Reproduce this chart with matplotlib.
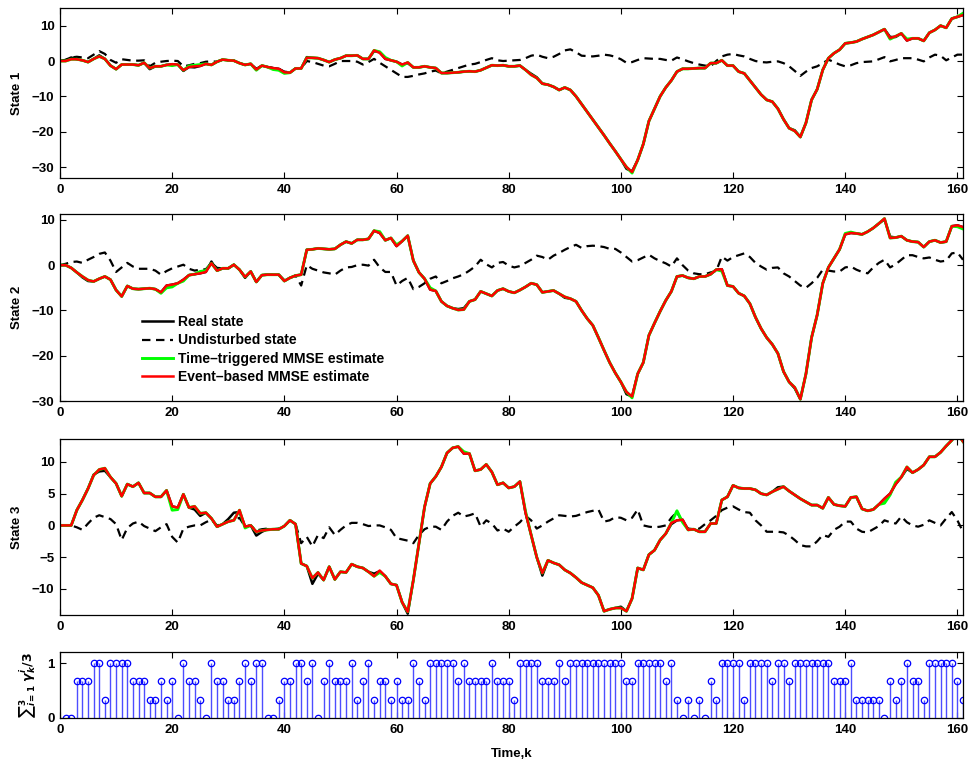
import numpy as np
import matplotlib
matplotlib.use('Agg')
import matplotlib.pyplot as plt

plt.rcParams['font.family'] = ['Liberation Sans', 'DejaVu Sans']
plt.rcParams['font.weight'] = 'bold'
plt.rcParams['mathtext.fontset'] = 'dejavusans'

k = list(range(162))

# ---------------- State 1 ----------------
real1 = [
    0, 0.3, 1.0, 0.5, 0.2, -0.3, 0.6, 1.6, 0.6, -1.3,
    -2.3, -1, -1, -1, -1.2, -0.5, -2.3, -1.5, -1.5, -1.1,
    -0.9, -1, -2.8, -1.7, -1.8, -1.4, -0.8, -1.1, -0.2, 0.4,
    0.2, 0.1, -0.6, -1.1, -0.8, -2.4, -1.3, -1.7, -2, -2.2,
    -3.2, -3.3, -2.1, -2.1, 1.1, 0.9, 0.8, 0.3, -0.3, 0.4,
    0.8, 1.5, 1.5, 1.6, 0.6, 0.6, 2.8, 2.5, 0.6, 0.2,
    -0.2, -1, -0.6, -1.8, -1.8, -1.5, -1.8, -2, -3.4, -3.4,
    -3.3, -3.2, -3, -2.9, -3, -2.6, -1.9, -1.2, -1.3, -1.2,
    -1.5, -1.5, -1.3, -2.5, -3.6, -4.6, -6.4, -6.7, -7.3, -8.2,
    -7.5, -8.2, -10, -12.2, -14.4, -16.6, -18.8, -21, -23.3, -25.5,
    -27.8, -30.5, -31.2, -28, -23.5, -17, -13.5, -10, -7.5, -5.5,
    -3, -2.2, -2.2, -2.1, -2, -2, -0.6, -0.6, 0.2, -1.3,
    -1.3, -3, -3.5, -5.5, -7.5, -9.5, -11, -11.5, -13.5, -16.5,
    -19, -19.6, -21.5, -17.5, -11, -8, -2.5, 0.8, 2.2, 3.2,
    5, 5.2, 5.5, 6.2, 6.8, 7.4, 8.2, 9, 6.8, 6.8,
    7.8, 5.8, 6.4, 6.4, 5.7, 8, 8.8, 10, 9.4, 12,
    12.5, 13]
undist1 = [
    0, 0.3, 1, 1.2, 1, 0.8, 1.8, 2.8, 2, 0.3,
    -0.5, 0.5, 0.3, 0.1, 0.1, 0.2, -1.5, -0.5, -0.2, 0,
    0.1, 0, -1.5, -1.2, -0.8, -0.6, -0.2, -0.1, -0.2, 0.4,
    0.2, 0.1, -0.6, -1.1, -0.8, -2.2, -1.3, -1.7, -2, -2.2,
    -3, -3.2, -2.1, -2.1, 0, -0.3, -0.8, -1.3, -1.5, -0.8,
    0, 0, 0, -0.2, -1, -0.3, 0.6, -0.5, -1.5, -2.5,
    -3.5, -4.5, -4.5, -4.2, -3.8, -3.5, -3, -2.7, -3.5, -3,
    -2.5, -2, -1.5, -1, -0.8, -0.3, 0.3, 0.8, 0.2, 0,
    0.1, 0.2, 0.3, 0.8, 1.5, 1.8, 1.2, 0.8, 1.2, 2,
    3, 3.3, 2.5, 1.5, 1.4, 1.3, 1.5, 1.8, 1.6, 1.2,
    0.5, -0.5, -0.3, 0.3, 0.8, 0.7, 0.6, 0.6, 0.3, 0.1,
    1, 0.5, -0.1, -0.6, -1, -1.3, -1.5, 0, 1.3, 1.8,
    2, 1.6, 1.3, 0.6, 0, -0.3, -0.4, -0.2, -0.1, -0.6,
    -1.5, -2.8, -4.2, -3, -2, -1.5, -0.6, 0.4, -0.3, -1,
    -1.5, -1.2, -0.6, -0.3, -0.2, -0.1, 0.5, 1.1, -0.1, 0.3,
    0.8, 0.8, 0.8, 0.4, -0.1, 1, 1.8, 1.5, 0.2, 1,
    1.8, 1.8]
tt1 = [
    0, 0, 0.5, 0.5, 0.2, -0.3, 0.6, 1.3, 0.6, -1.3,
    -2.3, -1, -1, -1, -1.2, -0.5, -2, -1.5, -1.5, -1.1,
    -1.3, -1, -2.6, -1.4, -1.2, -1.0, -0.8, -1.1, -0.2, 0.4,
    0.2, 0.1, -0.6, -1.1, -0.8, -2.6, -1.3, -1.7, -2.4, -2.6,
    -3.5, -3.3, -2.1, -2.1, 0.9, 0.9, 0.8, 0.3, -0.3, 0.4,
    0.8, 1.5, 1.5, 1.6, 0.6, 0.6, 3, 2.6, 1.0, 0.2,
    -0.2, -1.4, -0.4, -1.8, -1.8, -1.5, -1.8, -2, -3.4, -3.4,
    -3.3, -3.2, -3, -2.9, -3, -2.6, -1.9, -1.2, -1.3, -1.2,
    -1.5, -1.5, -1.3, -2.5, -3.9, -4.8, -6.4, -6.7, -7.3, -8.2,
    -7.5, -8.2, -10, -12.2, -14.4, -16.6, -18.8, -21, -23.3, -25.5,
    -27.8, -30, -31.7, -28, -23.5, -17, -13.5, -10, -7.5, -5.5,
    -3, -2.2, -2.2, -2.1, -2, -2, -0.6, -0.6, 0.2, -1.3,
    -1.3, -3, -3.5, -5.5, -7.5, -9.5, -11, -11.5, -13.5, -16.5,
    -19, -19.8, -21.5, -17.5, -11, -8, -2.5, 0.8, 2.2, 3.2,
    5, 5.2, 5.5, 6.2, 6.8, 7.4, 8.2, 9, 6.2, 7,
    7.8, 6.2, 6.4, 6.4, 5.7, 8, 8.8, 10, 9.4, 12,
    12.5, 13.5]
eb1 = [
    0, 0, 0.5, 0.5, 0.2, -0.3, 0.6, 1.3, 0.6, -1.3,
    -2.3, -1, -1, -1, -1.2, -0.5, -2, -1.5, -1.5, -1.1,
    -0.9, -1, -2.6, -1.7, -1.5, -1.4, -0.8, -1.1, -0.2, 0.4,
    0.2, 0.1, -0.6, -1.1, -0.8, -2.4, -1.3, -1.7, -2, -2.2,
    -3.2, -3.3, -2.1, -2.1, 0.9, 0.9, 0.8, 0.3, -0.3, 0.4,
    0.8, 1.5, 1.5, 1.6, 0.6, 0.6, 3, 2.3, 0.6, 0.2,
    -0.2, -1, -0.4, -1.8, -1.8, -1.5, -1.8, -2, -3.4, -3.4,
    -3.3, -3.2, -3, -2.9, -3, -2.6, -1.9, -1.2, -1.3, -1.2,
    -1.5, -1.5, -1.3, -2.5, -3.9, -4.8, -6.4, -6.7, -7.3, -8.2,
    -7.5, -8.2, -10, -12.2, -14.4, -16.6, -18.8, -21, -23.3, -25.5,
    -27.8, -30, -31.4, -28, -23.5, -17, -13.5, -10, -7.5, -5.5,
    -3, -2.2, -2.2, -2.1, -2, -2, -0.6, -0.6, 0.2, -1.3,
    -1.3, -3, -3.5, -5.5, -7.5, -9.5, -11, -11.5, -13.5, -16.5,
    -19, -19.8, -21.5, -17.5, -11, -8, -2.5, 0.8, 2.2, 3.2,
    5, 5.2, 5.5, 6.2, 6.8, 7.4, 8.2, 9, 6.5, 7,
    7.8, 5.8, 6.4, 6.4, 5.7, 8, 8.8, 10, 9.4, 12,
    12.5, 13]

# ---------------- State 2 ----------------
real2 = [
    0, 0, -0.6, -1.6, -2.7, -3.5, -3.6, -3, -2.5, -3.2,
    -5.5, -6.9, -4.6, -5.2, -5.3, -5.2, -5.1, -5.3, -6, -4.5,
    -4.3, -4, -3.2, -2.2, -2, -1.8, -1.5, 0.8, -1.2, -0.7,
    -0.7, 0.1, -1, -2.8, -1.4, -3.7, -2.2, -2.1, -2.1, -2.1,
    -3.5, -2.8, -2.3, -2.1, 3.4, 3.5, 3.7, 3.6, 3.5, 3.6,
    4.5, 5.2, 4.8, 5.6, 5.6, 5.8, 7.6, 7.1, 5.5, 6,
    4.2, 5.3, 6.5, 1, -1.6, -3, -5.4, -5.7, -8, -9,
    -9.5, -9.7, -9.5, -8, -7.6, -5.8, -6.3, -6.8, -5.6, -5.2,
    -5.8, -6.1, -5.5, -4.8, -4, -4.3, -6, -5.8, -5.6, -6.3,
    -7.2, -7.4, -8, -10, -11.8, -13.3, -16, -18.8, -21.5, -23.8,
    -25.8, -28.5, -29, -24, -21.5, -15.5, -12.8, -10.2, -7.8, -5.8,
    -2.5, -2.3, -2.8, -3, -2.5, -2.5, -2, -1, -0.9, -4.5,
    -4.7, -6.2, -6.8, -8.5, -11.5, -14, -16, -17.5, -19.5, -23.5,
    -25.8, -27.2, -29.6, -24, -16, -11, -4, -0.5, 1.5, 3.5,
    6.8, 7.1, 7, 6.8, 7.4, 8.2, 9.2, 10.1, 6.3, 6.1,
    6.4, 5.5, 5.2, 5.1, 4, 5.2, 5.5, 5, 5.2, 8.6,
    8.8, 8.4]
undist2 = [
    0, 0.3, 0.7, 0.8, 0.5, 1.2, 1.8, 2.5, 2.8, 1,
    -1.5, -0.5, 0.5, -0.3, -0.8, -0.8, -0.8, -1.2, -2.1, -1.3,
    -0.7, -0.3, 0.1, -0.8, -1.2, -1, -0.9, 0.5, -0.6, -0.7,
    -0.7, 0.1, -1, -2.6, -1.4, -3.7, -2.2, -2.1, -2.1, -2.1,
    -3.3, -2.8, -2.3, -4.5, 0, -0.8, -1.2, -1.6, -1.8, -2.1,
    -1.2, -0.5, -0.4, 0, 0.1, -0.1, 1.2, -0.5, -1.5, -1.5,
    -4.5, -3.5, -2.8, -5.3, -4.8, -4, -3, -2.5, -4, -3.5,
    -2.9, -2.5, -2, -1.2, -0.3, 1.2, 0.2, -0.5, 0.5, 0.7,
    -0.1, -0.5, -0.2, 0.5, 1.2, 2.1, 1.8, 1.2, 2.1, 2.7,
    3.4, 4, 4.5, 3.8, 4.2, 4.3, 4.2, 4, 3.6, 3.6,
    2.8, 1.8, 0.8, 1.1, 1.7, 2.3, 1.5, 0.9, 0.4, -0.3,
    1.5, 0, -1.2, -1.8, -2, -2, -1.6, -1.3, 1.9, 1,
    1.8, 2.2, 2.6, 1.8, 0.5, -0.3, -1, -0.6, -0.5, -1.8,
    -2.5, -3.5, -4.5, -5, -4, -2.8, -1, -1.2, -1.4, -1.4,
    -0.5, -0.3, -1, -1.5, -1.8, -0.5, 0.5, 1.2, -0.5, 0.2,
    1.2, 2.2, 2.2, 1.8, 1.5, 1.7, 1.2, 0.8, 1, 2.6,
    2.8, 1.2]
tt2 = [
    0, 0, -0.6, -1.6, -2.5, -3.3, -3.6, -3, -2.5, -3.2,
    -5.5, -6.9, -4.6, -5.2, -5.3, -5.2, -5.1, -5.3, -6.2, -5,
    -4.8, -4, -3.5, -2.2, -2, -1.4, -1.2, 0.4, -1.2, -0.7,
    -0.7, 0.1, -1, -2.6, -1.4, -3.7, -2.2, -2.1, -2.1, -2.1,
    -3.5, -2.8, -2.3, -2.1, 3.4, 3.5, 3.7, 3.6, 3.5, 3.6,
    4.5, 5.2, 4.8, 5.6, 5.6, 5.8, 7.6, 7.4, 5.5, 6,
    4.5, 5.3, 6.5, 1, -1.6, -3, -5, -5.7, -8, -9,
    -9.5, -9.9, -9.8, -8, -7.6, -5.8, -6.3, -6.8, -5.6, -5.2,
    -5.8, -6.1, -5.5, -4.8, -4, -4.3, -6, -5.8, -5.6, -6.3,
    -7, -7.4, -8, -10, -11.8, -13.3, -16, -18.8, -21.5, -23.8,
    -25.8, -28, -29.3, -24, -21.5, -15.5, -12.8, -10.2, -7.8, -5.8,
    -2.5, -2.3, -2.8, -3, -2.5, -2.5, -2, -1, -1.3, -4.5,
    -4.7, -6.2, -6.8, -8.5, -11.5, -14, -16, -17.5, -19.5, -23.5,
    -25.8, -27, -29.6, -24, -16, -11, -4, -0.5, 1.5, 3.5,
    7, 7.3, 7, 6.8, 7.4, 8.2, 9.2, 10.3, 6, 6.1,
    6.4, 5.5, 5.2, 5.1, 4, 5.2, 5.5, 5, 5.2, 8.6,
    8.5, 8]
eb2 = [
    0, 0, -0.6, -1.6, -2.5, -3.3, -3.6, -3, -2.5, -3.2,
    -5.5, -6.9, -4.6, -5.2, -5.3, -5.2, -5.1, -5.3, -6, -4.5,
    -4.3, -4, -3.2, -2.2, -2, -1.8, -1.5, 0.4, -1.2, -0.7,
    -0.7, 0.1, -1, -2.6, -1.4, -3.7, -2.2, -2.1, -2.1, -2.1,
    -3.5, -2.8, -2.3, -2.1, 3.4, 3.5, 3.7, 3.6, 3.5, 3.6,
    4.5, 5.2, 4.8, 5.6, 5.6, 5.8, 7.6, 7.1, 5.5, 6,
    4.2, 5.3, 6.5, 1, -1.6, -3, -5.4, -5.7, -8, -9,
    -9.5, -9.9, -9.8, -8, -7.6, -5.8, -6.3, -6.8, -5.6, -5.2,
    -5.8, -6.1, -5.5, -4.8, -4, -4.3, -6, -5.8, -5.6, -6.3,
    -7, -7.4, -8, -10, -11.8, -13.3, -16, -18.8, -21.5, -23.8,
    -25.8, -28, -29, -24, -21.5, -15.5, -12.8, -10.2, -7.8, -5.8,
    -2.5, -2.3, -2.8, -3, -2.5, -2.5, -2, -1, -0.9, -4.5,
    -4.7, -6.2, -6.8, -8.5, -11.5, -14, -16, -17.5, -19.5, -23.5,
    -25.8, -27, -29.6, -24, -16, -11, -4, -0.5, 1.5, 3.5,
    6.8, 7.1, 7, 6.8, 7.4, 8.2, 9.2, 10.3, 6, 6.1,
    6.4, 5.5, 5.2, 5.1, 4, 5.2, 5.5, 5, 5.2, 8.6,
    8.8, 8.4]

# ---------------- State 3 ----------------
real3 = [
    0, 0, 0, 2.4, 4, 5.8, 8, 8.5, 8.6, 7.6,
    6.6, 4.6, 6.5, 6.1, 6.7, 5.1, 5.1, 4.5, 4.5, 5.5,
    3, 2.8, 4.9, 2.8, 2.5, 1.5, 2, 1.1, -0.2, 0.2,
    1, 2, 2.1, -0.2, 0, -1.6, -1, -0.6, -0.6, -0.6,
    -0.1, 0.8, 0.2, -6, -6.4, -9.2, -7.6, -8.6, -6.5, -8.5,
    -7.3, -7.4, -6.1, -6.5, -6.7, -7.3, -7.6, -7.2, -8, -9.2,
    -9.4, -12.1, -13.9, -8.6, -2.8, 2.9, 6.6, 7.7, 9.2, 11.4,
    12.2, 12.4, 11.3, 11.3, 8.6, 8.8, 9.6, 8.4, 6.4, 6.7,
    5.9, 6.1, 6.9, 2, -1.5, -5, -7.9, -5.5, -5.9, -6.2,
    -7, -7.5, -8.2, -9, -9.4, -9.8, -11, -13.5, -13.2, -13,
    -12.8, -13.5, -11.5, -6.7, -7, -4.6, -3.9, -2.3, -1.3, 0.2,
    0.8, 0.9, -0.7, -0.6, -1, -1, 0.3, 0.3, 4, 4.5,
    6.3, 5.9, 5.8, 5.8, 5.6, 5, 4.8, 5.3, 6, 6.1,
    5.4, 4.8, 4.2, 3.7, 3.2, 3.2, 2.7, 4.4, 3.3, 3.1,
    3, 4.4, 4.5, 2.6, 2.3, 2.5, 3.3, 4.2, 5, 6.5,
    7.6, 8.9, 8.3, 8.8, 9.5, 10.8, 10.8, 11.5, 12.5, 13.4,
    14.5, 13.2]
undist3 = [
    0, 0, 0, -0.3, -0.7, 0.3, 1.2, 1.6, 1.3, 1,
    0.2, -2.3, -0.4, 0.3, 0.6, -0.1, -0.5, -0.9, -0.3, 0.2,
    -1.8, -2.7, -0.5, -0.2, 0, 0, 0.5, 0.9, 0, 0.2,
    0.6, 0.8, 1.2, -0.2, 0, -0.8, -0.6, -0.5, -0.6, -0.5,
    -0.1, 0.8, 0.2, -2.8, -1.8, -3.3, -1.5, -2, -0.3, -1.5,
    -0.7, 0, 0.4, 0.4, 0.2, -0.1, 0, 0, -0.3, -0.7,
    -2, -2.2, -2.4, -2.8, -1.5, -0.6, -0.2, -0.2, -0.7, 0.6,
    1.5, 2, 1.4, 1.6, 1.9, -0.2, 0.8, 0.3, -0.8, -0.5,
    -1, -0.2, 0.5, 1.5, 0.8, -0.5, 0, 0.6, 1.1, 1.6,
    1.5, 1.4, 1.5, 1.8, 2.1, 2.3, 2.5, 0.6, 0.8, 1.3,
    1.2, 0.8, 1.2, 2.5, 0, -0.2, -0.3, -0.2, 0, 1.2,
    2.1, 0.5, -0.5, -0.6, -0.5, 0.2, 0.8, 1.5, 2.4, 2.8,
    3, 2.5, 2.1, 2, 0.8, 0, -1, -1, -1, -1.1,
    -1.6, -2.3, -3.1, -3.3, -3.3, -2.5, -1.5, -1.8, -0.7, -0.2,
    0.6, 0.6, -0.5, -1, -1.1, -0.6, -0.1, 0.8, 0.5, 0.3,
    1.4, 0.5, 0, -0.2, 0.1, 0.8, 0.4, 0, 1.1, 2.1,
    0.8, -1]
tt3 = [
    0, 0, 0, 2.4, 4, 5.8, 7.9, 8.8, 9, 7.6,
    6.6, 4.6, 6.5, 6.1, 6.7, 5.1, 5.1, 4.5, 4.5, 5.5,
    2.4, 2.5, 4.9, 2.8, 3, 1.9, 2, 1.1, -0.2, 0.2,
    0.6, 0.8, 2.4, -0.4, 0, -1, -0.8, -0.7, -0.6, -0.6,
    -0.1, 0.8, 0.2, -6, -6.4, -8.3, -7.4, -8.6, -6.5, -8.5,
    -7.3, -7.4, -6.1, -6.5, -6.7, -7.3, -8, -7.4, -8, -9.2,
    -9.4, -12.1, -13.6, -8.6, -2.8, 2.9, 6.6, 7.7, 9.2, 11.4,
    12.2, 12.4, 11.6, 11.3, 8.6, 8.8, 9.6, 8.4, 6.4, 6.7,
    5.9, 6.1, 6.9, 2.2, -1.5, -5, -7.5, -5.5, -5.9, -6.2,
    -7, -7.5, -8.2, -9, -9.4, -9.8, -11, -13.5, -13.2, -13,
    -13, -13.5, -11.5, -6.7, -7, -4.6, -3.9, -2.3, -1.3, 0.4,
    2.3, 0.5, -0.7, -0.6, -1, -1, 0.3, 0.3, 4, 4.5,
    6.3, 5.9, 5.8, 5.8, 5.6, 5, 4.8, 5.3, 5.7, 6.1,
    5.4, 4.8, 4.2, 3.7, 3.2, 3.2, 2.7, 4.4, 3.3, 3.1,
    3, 4.4, 4.5, 2.6, 2.3, 2.5, 3.3, 3.5, 4.8, 6.8,
    7.6, 9.2, 8.3, 8.8, 9.5, 10.8, 10.8, 11.5, 12.5, 13.4,
    14.5, 13.2]
eb3 = [
    0, 0, 0, 2.4, 4, 5.8, 7.9, 8.8, 9, 7.6,
    6.6, 4.6, 6.5, 6.1, 6.7, 5.1, 5.1, 4.5, 4.5, 5.5,
    3, 2.8, 4.9, 2.8, 3, 1.9, 2, 1.1, -0.2, 0.2,
    0.6, 0.8, 2.4, -0.2, 0, -1, -0.8, -0.7, -0.6, -0.6,
    -0.1, 0.8, 0.2, -6, -6.4, -8.3, -7.4, -8.6, -6.5, -8.5,
    -7.3, -7.4, -6.1, -6.5, -6.7, -7.3, -8, -7.1, -8, -9.2,
    -9.4, -12.1, -13.6, -8.6, -2.8, 2.9, 6.6, 7.7, 9.2, 11.4,
    12.2, 12.4, 11.3, 11.3, 8.6, 8.8, 9.6, 8.4, 6.4, 6.7,
    5.9, 6.1, 6.9, 2, -1.5, -5, -7.5, -5.5, -5.9, -6.2,
    -7, -7.5, -8.2, -9, -9.4, -9.8, -11, -13.5, -13.2, -13,
    -13, -13.5, -11.5, -6.7, -7, -4.6, -3.9, -2.3, -1.3, 0.4,
    0.8, 0.9, -0.7, -0.6, -1, -1, 0.3, 0.3, 4, 4.5,
    6.3, 5.9, 5.8, 5.8, 5.6, 5, 4.8, 5.3, 5.7, 6.1,
    5.4, 4.8, 4.2, 3.7, 3.2, 3.2, 2.7, 4.4, 3.3, 3.1,
    3, 4.4, 4.5, 2.6, 2.3, 2.5, 3.3, 4.2, 5, 6.5,
    7.6, 9.2, 8.3, 8.8, 9.5, 10.8, 10.8, 11.5, 12.5, 13.4,
    14.5, 13.2]

# ---------------- triggering (number of sensors out of 3) ----------------
k_trig = list(range(1, 162))
n_trig = [
    0, 0, 2, 2, 2, 3, 3, 1, 3, 3,
    3, 3, 2, 2, 2, 1, 1, 2, 1, 2,
    0, 3, 2, 2, 1, 0, 3, 2, 2, 1,
    1, 2, 3, 2, 3, 3, 0, 0, 1, 2,
    2, 3, 3, 2, 3, 0, 2, 3, 2, 2,
    2, 3, 1, 2, 3, 1, 2, 2, 1, 2,
    1, 1, 3, 2, 1, 3, 3, 3, 3, 3,
    2, 3, 2, 2, 2, 2, 3, 2, 2, 2,
    1, 3, 3, 3, 3, 2, 2, 2, 3, 2,
    3, 3, 3, 3, 3, 3, 3, 3, 3, 3,
    2, 2, 3, 3, 3, 3, 3, 2, 3, 1,
    0, 1, 0, 1, 0, 2, 1, 3, 3, 3,
    3, 1, 3, 3, 3, 3, 2, 3, 3, 2,
    3, 3, 3, 3, 3, 3, 3, 2, 2, 2,
    3, 1, 1, 1, 1, 1, 0, 2, 1, 2,
    3, 2, 2, 1, 3, 3, 3, 3, 3, 2,
    1]
gamma_avg = [n / 3 for n in n_trig]

# ---------------- figure ----------------
W, H = 970, 761
fig = plt.figure(figsize=(W / 100, H / 100), dpi=100)


def px_axes(top, bottom, left=60, right=963):
    return fig.add_axes([left / W, 1 - bottom / H, (right - left) / W, (bottom - top) / H])


def style(ax):
    ax.set_xlim(0, 161)
    ax.set_xticks(range(0, 161, 20))
    ax.tick_params(direction='in', top=True, right=True, length=4, width=0.8,
                   labelsize=9.5, pad=4)
    for lab in ax.get_xticklabels() + ax.get_yticklabels():
        lab.set_fontweight('bold')
    for sp in ax.spines.values():
        sp.set_linewidth(0.9)


panels = [
    (8, 178, real1, undist1, tt1, eb1, (-33.1, 15), [-30, -20, -10, 0, 10], 'State 1'),
    (214, 401, real2, undist2, tt2, eb2, (-30, 11.3), [-30, -20, -10, 0, 10], 'State 2'),
    (439, 615, real3, undist3, tt3, eb3, (-14.1, 13.6), [-10, -5, 0, 5, 10], 'State 3'),
]

axes = []
for top, bottom, real, und, tt, eb, ylim, yt, name in panels:
    ax = px_axes(top, bottom)
    ax.plot(k, real, color='black', lw=1.8, label='Real state')
    ax.plot(k, und, color='black', lw=1.6, linestyle=(0, (3.8, 2.5)), label='Undisturbed state')
    ax.plot(k, tt, color='#00ff00', lw=2.1, label='Time\u2013triggered MMSE estimate')
    ax.plot(k, eb, color='#ff0000', lw=1.8, label='Event\u2013based MMSE estimate')
    ax.set_ylim(*ylim)
    ax.set_yticks(yt)
    style(ax)
    ax.set_ylabel(name, fontsize=9.5, fontweight='bold')
    ax.yaxis.set_label_coords(-0.041, 0.5)
    axes.append(ax)

leg = axes[1].legend(loc='upper left', bbox_to_anchor=(0.091, 0.46), frameon=False,
                     fontsize=10, handlelength=2.2, handletextpad=0.4, labelspacing=0.32,
                     borderaxespad=0, borderpad=0)
for t in leg.get_texts():
    t.set_fontweight('bold')

ax4 = px_axes(652, 718)
markerline, stemlines, baseline = ax4.stem(k_trig, gamma_avg, linefmt='b-', markerfmt='bo',
                                           basefmt='k-')
markerline.set_markerfacecolor('none')
markerline.set_markeredgecolor('blue')
markerline.set_markersize(4.6)
markerline.set_markeredgewidth(0.9)
stemlines.set_linewidth(1.0)
stemlines.set_color('#4d4dff')
baseline.set_visible(False)
ax4.set_ylim(0, 1.2)
ax4.set_yticks([0, 1])
style(ax4)
ax4.set_ylabel(r'${\sum}_{i=1}^{3}\ \gamma_k^i/3$', fontsize=9, fontweight='normal')
ax4.yaxis.set_label_coords(-0.024, 0.5)
ax4.set_xlabel('Time,k', fontsize=9.5, fontweight='bold')
ax4.xaxis.set_label_coords(0.5, -0.46)

fig.savefig('out.png', dpi=100)
